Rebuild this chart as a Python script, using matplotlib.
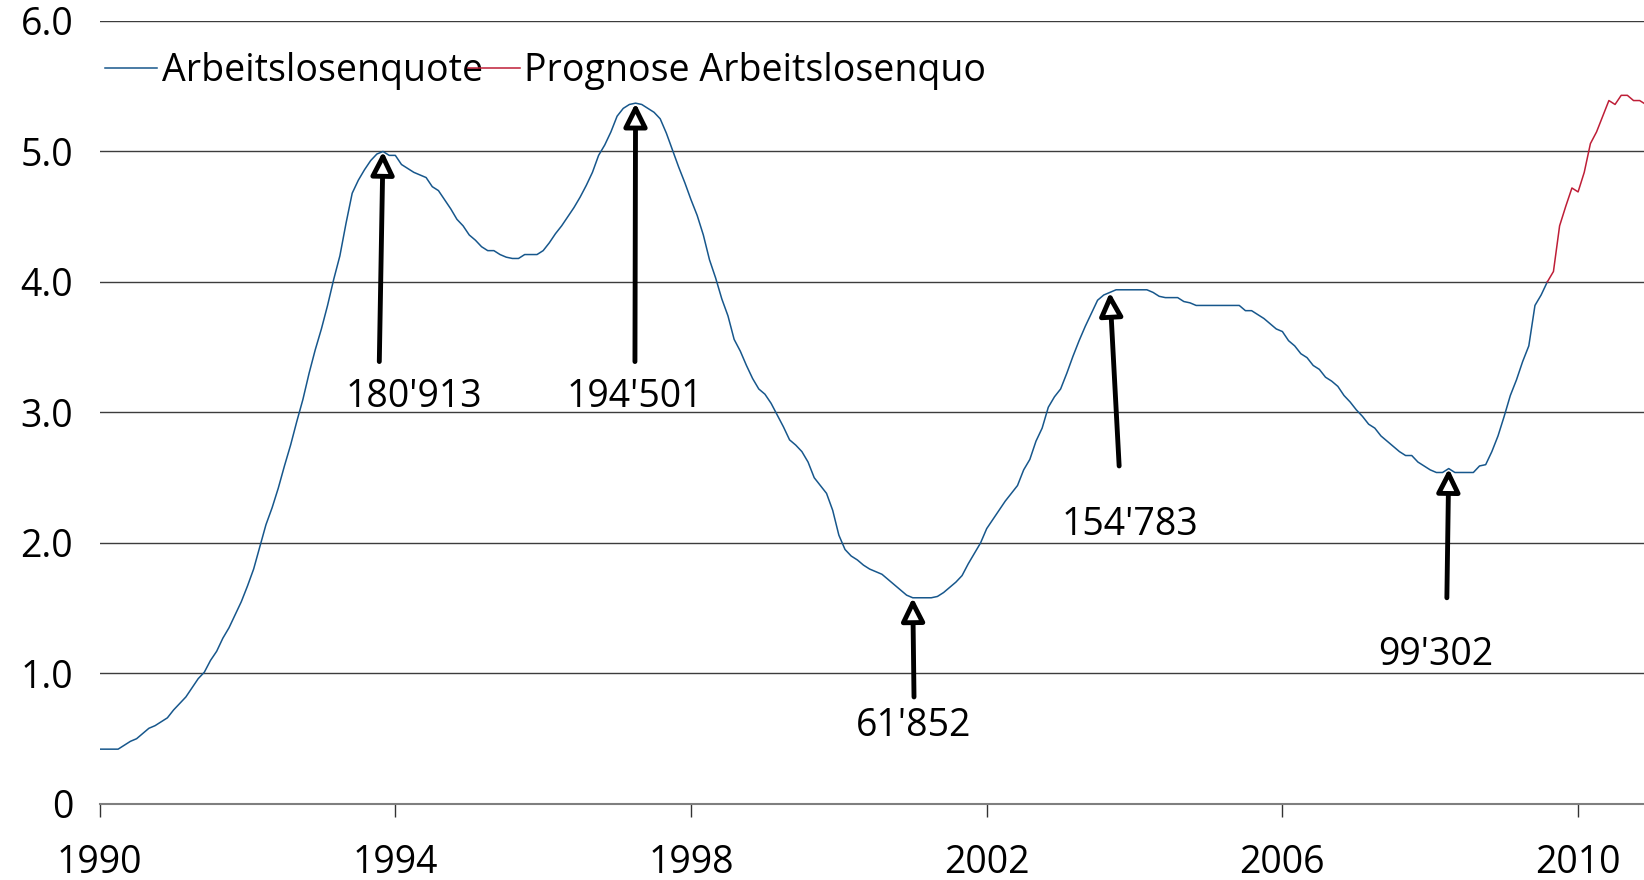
"""
Arbeitslosenquote Schweiz 1990-2010, mit Prognose.

"""

import numpy as np
import matplotlib.pyplot as plt


# Arbeitslosenquote in %, monatlich ab Januar 1990
quote_1990 = [0.42, 0.42, 0.42, 0.42, 0.45, 0.48, 0.50, 0.54, 0.58, 0.60, 0.63, 0.66]
quote_1991 = [0.72, 0.77, 0.82, 0.89, 0.96, 1.01, 1.10, 1.17, 1.27, 1.35, 1.45, 1.55]
quote_1992 = [1.67, 1.80, 1.97, 2.14, 2.27, 2.42, 2.59, 2.75, 2.93, 3.10, 3.30, 3.48]
quote_1993 = [3.64, 3.82, 4.02, 4.20, 4.45, 4.68, 4.78, 4.86, 4.93, 4.98, 5.00, 4.97]
quote_1994 = [4.97, 4.90, 4.87, 4.84, 4.82, 4.80, 4.73, 4.70, 4.63, 4.56, 4.48, 4.43]
quote_1995 = [4.36, 4.32, 4.27, 4.24, 4.24, 4.21, 4.19, 4.18, 4.18, 4.21, 4.21, 4.21]
quote_1996 = [4.24, 4.30, 4.37, 4.43, 4.50, 4.57, 4.65, 4.74, 4.84, 4.97, 5.05, 5.15]
quote_1997 = [5.27, 5.33, 5.36, 5.37, 5.36, 5.33, 5.30, 5.25, 5.14, 5.01, 4.88, 4.76]
quote_1998 = [4.63, 4.51, 4.36, 4.17, 4.03, 3.87, 3.74, 3.56, 3.47, 3.36, 3.26, 3.18]
quote_1999 = [3.14, 3.07, 2.98, 2.89, 2.79, 2.75, 2.70, 2.62, 2.50, 2.44, 2.38, 2.25]
quote_2000 = [2.06, 1.95, 1.90, 1.87, 1.83, 1.80, 1.78, 1.76, 1.72, 1.68, 1.64, 1.60]
quote_2001 = [1.58, 1.58, 1.58, 1.58, 1.59, 1.62, 1.66, 1.70, 1.75, 1.84, 1.92, 2.00]
quote_2002 = [2.11, 2.18, 2.25, 2.32, 2.38, 2.44, 2.56, 2.64, 2.78, 2.88, 3.04, 3.12]
quote_2003 = [3.18, 3.30, 3.43, 3.55, 3.66, 3.76, 3.86, 3.90, 3.92, 3.94, 3.94, 3.94]
quote_2004 = [3.94, 3.94, 3.94, 3.92, 3.89, 3.88, 3.88, 3.88, 3.85, 3.84, 3.82, 3.82]
quote_2005 = [3.82, 3.82, 3.82, 3.82, 3.82, 3.82, 3.78, 3.78, 3.75, 3.72, 3.68, 3.64]
quote_2006 = [3.62, 3.55, 3.51, 3.45, 3.42, 3.36, 3.33, 3.27, 3.24, 3.20, 3.13, 3.08]
quote_2007 = [3.02, 2.97, 2.91, 2.88, 2.82, 2.78, 2.74, 2.70, 2.67, 2.67, 2.62, 2.59]
quote_2008 = [2.56, 2.54, 2.54, 2.57, 2.54, 2.54, 2.54, 2.54, 2.59, 2.60, 2.70, 2.82]
quote_2009 = [2.97, 3.13, 3.25, 3.39, 3.51, 3.82, 3.90, 4.00]

# Prognose, beginnt im August 2009 (Monat 235)
prognose_start = 235
prognose = [4.00, 4.08, 4.43, 4.58, 4.72, 4.69, 4.84, 5.06, 5.15,
            5.27, 5.39, 5.36, 5.43, 5.43, 5.39, 5.39, 5.36]

legend_labels = ["Arbeitslosenquote", "Prognose Arbeitslosenquo"]

# Anzahl Arbeitslose an den Wendepunkten
annot_labels = ["180'913", "194'501", "61'852", "154'783", "99'302"]
annot_month = [46, 87, 132, 164, 219]

x_ticks = [1990, 1994, 1998, 2002, 2006, 2010]
y_ticks = [0, 1, 2, 3, 4, 5, 6]
y_tick_labels = ["0", "1.0", "2.0", "3.0", "4.0", "5.0", "6.0"]

start_year = 1990

blue = "#17578c"
red = "#be1e37"


def month_to_year(m):
    """Convert a month index (0 = Jan 1990) to a decimal year."""
    return start_year + np.asarray(m) / 12.0


def plot_chart():
    quote = (quote_1990 + quote_1991 + quote_1992 + quote_1993 + quote_1994
             + quote_1995 + quote_1996 + quote_1997 + quote_1998 + quote_1999
             + quote_2000 + quote_2001 + quote_2002 + quote_2003 + quote_2004
             + quote_2005 + quote_2006 + quote_2007 + quote_2008 + quote_2009)
    t_quote = month_to_year(np.arange(len(quote)))
    t_prog = month_to_year(prognose_start + np.arange(len(prognose)))

    fig = plt.figure(figsize=(16.44, 8.80), dpi=100)
    ax = fig.add_axes([0.0606, 0.0864, 0.9394, 0.8898])

    ax.plot(t_quote, quote, color=blue, lw=1.1, label=legend_labels[0], zorder=3)
    ax.plot(t_prog, prognose, color=red, lw=1.1, label=legend_labels[1], zorder=3)

    # arrows and labels (layout in month index / value)
    arrow_tails = [(45.4, 3.39), (86.9, 3.39), (132.2, 0.82), (165.5, 2.59), (218.7, 1.58)]
    label_pos = [(51.0, 3.12), (86.9, 3.12), (132.2, 0.60), (167.2, 2.14), (216.9, 1.14)]
    for label, m, tail, pos in zip(annot_labels, annot_month, arrow_tails, label_pos):
        tip = (month_to_year(m), quote[m])
        ax.annotate("", xy=tip, xytext=(month_to_year(tail[0]), tail[1]),
                    arrowprops=dict(arrowstyle="-|>,head_length=0.7,head_width=0.35",
                                    lw=3.5, color="black", fc="white",
                                    shrinkA=0, shrinkB=0, mutation_scale=20),
                    zorder=4)
        ax.text(month_to_year(pos[0]), pos[1], label, fontsize=27,
                ha="center", va="center", zorder=5)

    ax.set_xlim(start_year, month_to_year(250.7))
    ax.set_ylim(0, 6)
    ax.set_xticks(x_ticks)
    ax.set_xticklabels([str(y) for y in x_ticks])
    ax.set_yticks(y_ticks)
    ax.set_yticklabels(y_tick_labels)
    ax.tick_params(axis="x", direction="out", length=9, width=1.0,
                   color="#333333", labelsize=27, pad=20)
    ax.tick_params(axis="y", length=0, labelsize=27, pad=19)

    ax.yaxis.grid(True, color="#3c3c3c", lw=1.0)
    ax.set_axisbelow(True)
    for side in ["left", "right", "top"]:
        ax.spines[side].set_visible(False)
    ax.spines["bottom"].set_color("#7f7f7f")
    ax.spines["bottom"].set_linewidth(1.5)

    ax.legend(loc="center left", bbox_to_anchor=(0.0035, 0.936), ncol=2,
              frameon=False, fontsize=27, handlelength=1.38, handletextpad=0.13,
              columnspacing=-0.4, borderpad=0, borderaxespad=0)

    fig.savefig("out.png", dpi=100)


if __name__ == "__main__":
    plt.rcParams["font.family"] = ["Open Sans", "DejaVu Sans"]
    plot_chart()
